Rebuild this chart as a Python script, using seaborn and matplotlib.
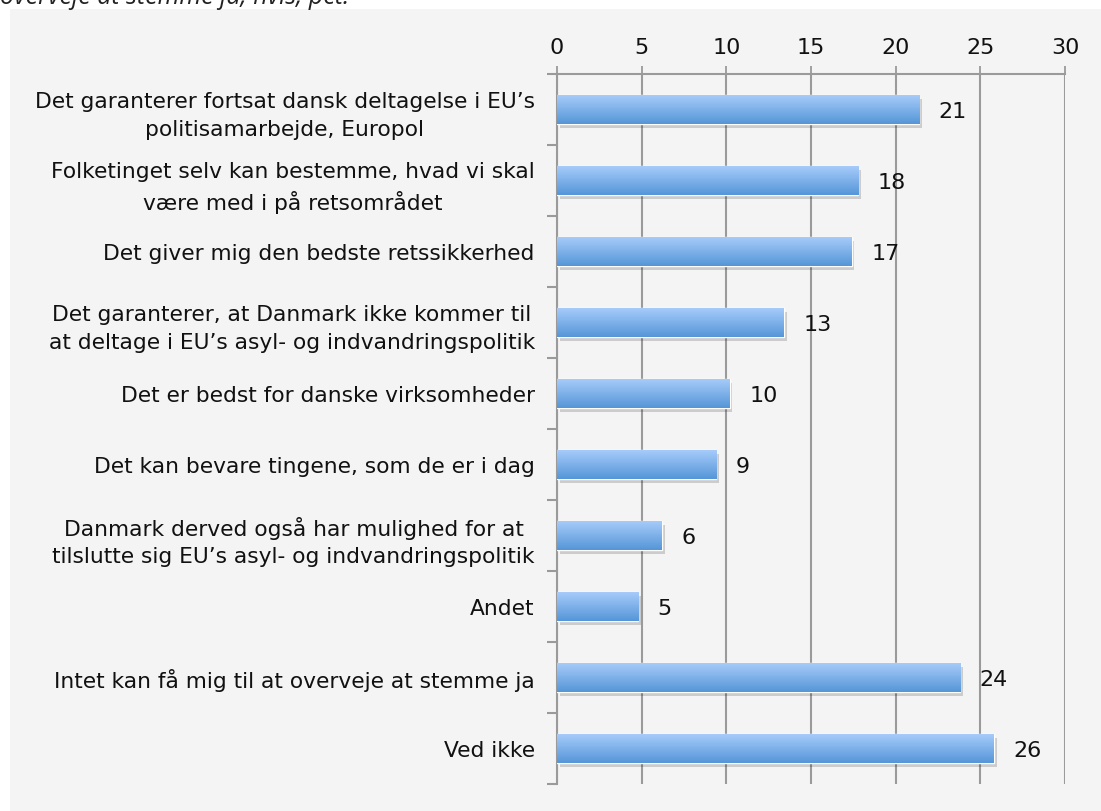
import numpy as np
import matplotlib.pyplot as plt
import matplotlib.patheffects as pe
from matplotlib.colors import LinearSegmentedColormap
from matplotlib.patches import Rectangle
from matplotlib.ticker import FixedLocator
import seaborn as sns

categories = [
    "Det garanterer fortsat dansk deltagelse i EU’s\npolitisamarbejde, Europol",
    "Folketinget selv kan bestemme, hvad vi skal\nvære med i på retsområdet",
    "Det giver mig den bedste retssikkerhed",
    "Det garanterer, at Danmark ikke kommer til\nat deltage i EU’s asyl- og indvandringspolitik",
    "Det er bedst for danske virksomheder",
    "Det kan bevare tingene, som de er i dag",
    "Danmark derved også har mulighed for at\ntilslutte sig EU’s asyl- og indvandringspolitik",
    "Andet",
    "Intet kan få mig til at overveje at stemme ja",
    "Ved ikke",
]
values = [21.4, 17.8, 17.4, 13.4, 10.2, 9.4, 6.2, 4.8, 23.8, 25.8]
value_labels = ["21", "18", "17", "13", "10", "9", "6", "5", "24", "26"]
x_ticks = [0, 5, 10, 15, 20, 25, 30]

sns.set_style("white")
plt.rcParams["font.family"] = ["DejaVu Sans"]

panel_color = "#f4f4f4"
grid_color = "#9a9a9a"

fig = plt.figure(figsize=(11.01, 8.12), dpi=100)
fig.add_artist(Rectangle((10 / 1101, 0), 1, 1 - 10 / 812,
                         transform=fig.transFigure,
                         facecolor=panel_color, edgecolor="none", zorder=-10))

fig.text(0.0, 1 - 4 / 812, "overveje at stemme ja, hvis, pct.",
         fontsize=18, style="italic", family=["Open Sans", "DejaVu Sans"],
         va="baseline", ha="left", color="#222222")

ax = fig.add_axes([557 / 1101, 1 - 785 / 812, (1065 - 557) / 1101, (785 - 75) / 812])
ax.set_facecolor(panel_color)
ax.patch.set_alpha(0)

sns.barplot(x=values, y=categories, orient="h", width=0.41,
            color="#79aee6", ax=ax, zorder=3)

cmap = LinearSegmentedColormap.from_list("bar", ["#5596d8", "#a9cdfb"])
grad = np.linspace(0, 1, 100).reshape(-1, 1)
for p in ax.patches:
    x0, y0 = p.get_x(), p.get_y()
    w, h = p.get_width(), p.get_height()
    p.set_path_effects([
        pe.SimplePatchShadow(offset=(2, -3), shadow_rgbFace="#000000", alpha=0.16),
        pe.Normal(),
    ])
    im = ax.imshow(grad, extent=[x0, x0 + w, y0 + h, y0], cmap=cmap,
                   aspect="auto", origin="lower", zorder=4)
    im.set_clip_path(p)

ax.set_xlim(0, 30)
ax.set_ylim(len(categories) - 0.5, -0.5)

for i, (v, lab) in enumerate(zip(values, value_labels)):
    ax.annotate(lab, xy=(v, i), xytext=(14, -1), textcoords="offset points",
                va="center", ha="left", fontsize=16, color="#111111", zorder=5)

ax.xaxis.tick_top()
ax.set_xticks(x_ticks)
ax.tick_params(axis="x", which="major", top=True, direction="out", length=6,
               width=1.3, color=grid_color, labelsize=16, pad=6,
               labelcolor="#111111")
ax.grid(axis="x", color=grid_color, linewidth=1.5, zorder=1)
ax.set_axisbelow(True)

ax.tick_params(axis="y", which="major", length=0, pad=16, labelsize=15.7,
               labelcolor="#111111")
ax.yaxis.set_minor_locator(FixedLocator(np.arange(-0.5, len(categories), 1.0)))
ax.tick_params(axis="y", which="minor", left=True, direction="out", length=7,
               width=1.5, color=grid_color)
for t in ax.get_yticklabels():
    t.set_multialignment("center")
    t.set_linespacing(1.45)

for side in ["right", "bottom"]:
    ax.spines[side].set_visible(False)
for side in ["top", "left"]:
    ax.spines[side].set_color(grid_color)
    ax.spines[side].set_linewidth(1.5)

ax.set_xlabel("")
ax.set_ylabel("")

plt.savefig("out.png", dpi=100, facecolor="white")
